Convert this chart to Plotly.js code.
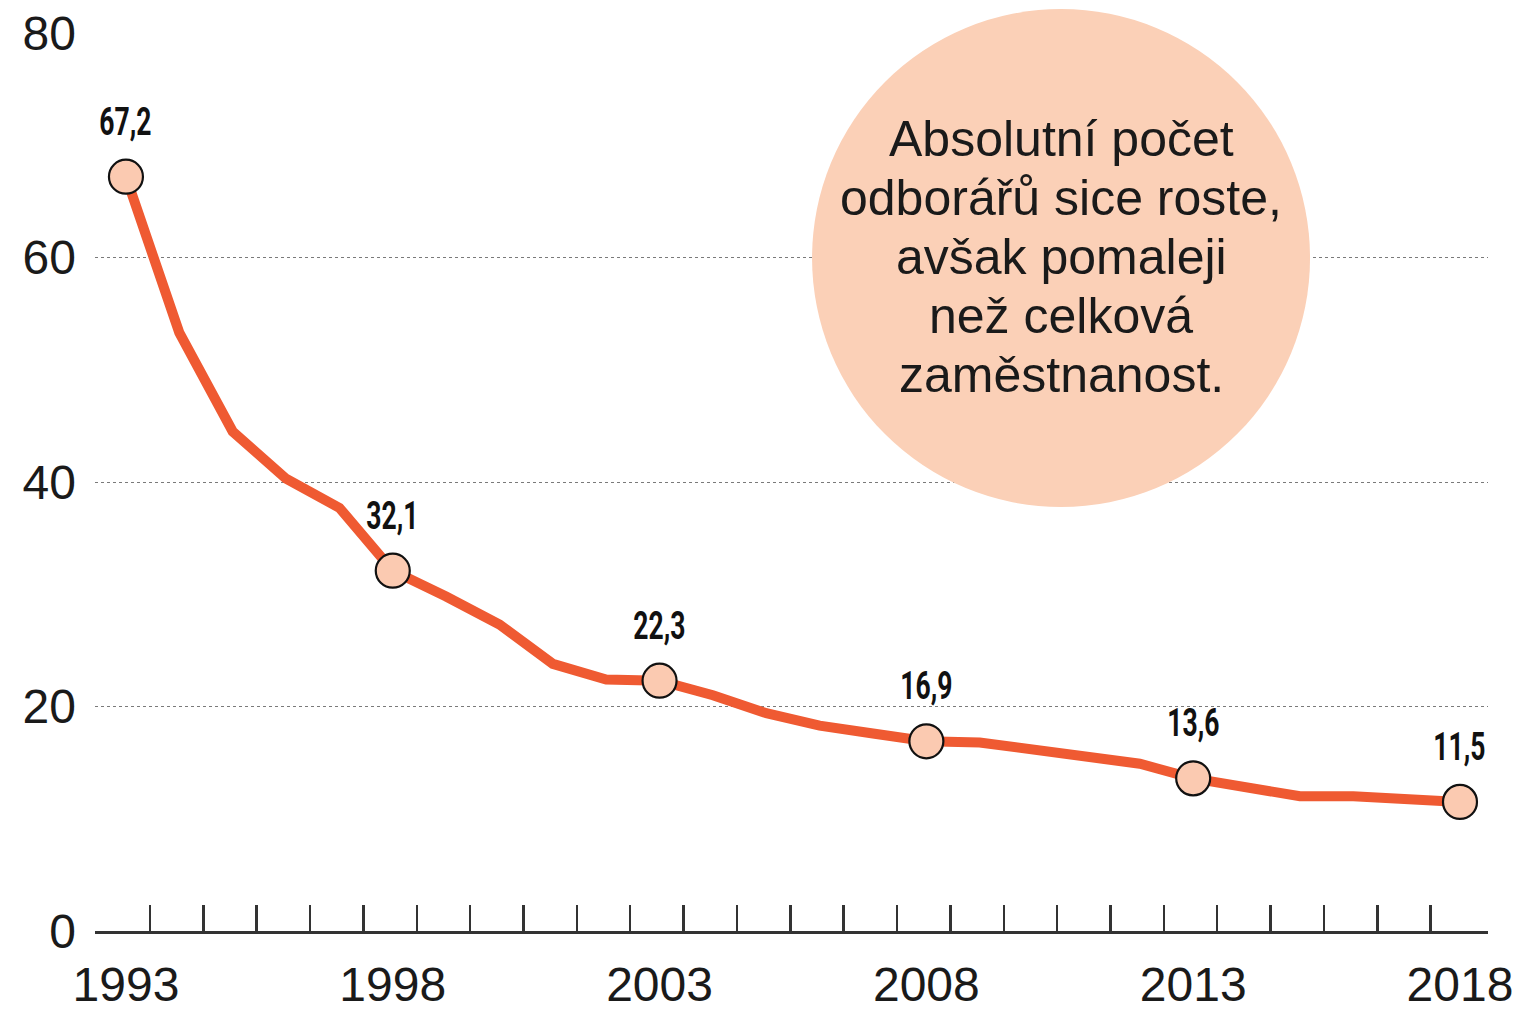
<!DOCTYPE html>
<html>
<head>
<meta charset="utf-8">
<script src="https://cdn.plot.ly/plotly-3.0.1.min.js"></script>
<style>
  html, body { margin: 0; padding: 0; background: #ffffff; }
  #chart { width: 1520px; height: 1011px; }
</style>
</head>
<body>
<div id="chart"></div>
<script>
// ---- data ----
const years = [1993, 1994, 1995, 1996, 1997, 1998, 1999, 2000, 2001, 2002, 2003, 2004, 2005,
               2006, 2007, 2008, 2009, 2010, 2011, 2012, 2013, 2014, 2015, 2016, 2017, 2018];
const values = [67.2, 53.3, 44.5, 40.3, 37.7, 32.1, 29.8, 27.3, 23.8, 22.4, 22.3, 21.0, 19.4,
                18.3, 17.6, 16.9, 16.8, 16.1, 15.4, 14.9, 13.6, 12.9, 12.0, 12.0, 11.7, 11.5];
const highlightYears = [1993, 1998, 2003, 2008, 2013, 2018];
const xTickLabels = ['1993', '1998', '2003', '2008', '2013', '2018'];
const yTickValues = [0, 20, 40, 60, 80];
const minorTickYears = [1993, 1994, 1995, 1996, 1997, 1998, 1999, 2000, 2001, 2002, 2003, 2004,
                        2005, 2006, 2007, 2008, 2009, 2010, 2011, 2012, 2013, 2014, 2015, 2016, 2017];
const noteLines = ['Absolutní počet', 'odborářů sice roste,', 'avšak pomaleji', 'než celková', 'zaměstnanost.'];

// ---- derived ----
const highlightValues = highlightYears.map(y => values[years.indexOf(y)]);
const tickPositions = minorTickYears.map(y => y + 0.45);
const fmt = v => v.toFixed(1).replace('.', ',');

const LINE = '#EF5A32';
const PEACH = '#FBCAB1';
const BUBBLE = '#FBD0B7';
const TEXT = '#1a1a1a';
const FONT = '"Liberation Sans", Arial, Helvetica, sans-serif';
const BOLDF = 'Roboto, "Liberation Sans", Arial, sans-serif';

const xRange = [1992.42, 2018.525];
const bubble = {x: 0.6935, y: 0.7494, r: 249};

const traces = [
  {
    x: years, y: values, type: 'scatter', mode: 'lines',
    line: {color: LINE, width: 10, shape: 'linear'},
    hoverinfo: 'skip', showlegend: false, cliponaxis: false
  },
  {
    x: highlightYears, y: highlightValues, type: 'scatter', mode: 'markers',
    marker: {size: 34, color: PEACH, line: {color: '#111', width: 2.2}},
    hoverinfo: 'skip', showlegend: false, cliponaxis: false
  },
  {
    x: [], y: [], xaxis: 'x2', yaxis: 'y', type: 'scatter', mode: 'markers',
    showlegend: false, hoverinfo: 'skip'
  }
];

const annotations = highlightYears.map((yr, i) => ({
  x: yr, y: highlightValues[i], xref: 'x', yref: 'y',
  text: fmt(highlightValues[i]),
  showarrow: false, yshift: 55, xanchor: 'center', yanchor: 'middle',
  font: {family: BOLDF, size: 39, weight: 700, color: '#111'}
}));

noteLines.forEach((line, i) => {
  annotations.push({
    x: bubble.x, y: bubble.y, xref: 'paper', yref: 'paper',
    text: line, showarrow: false, xanchor: 'center', yanchor: 'middle',
    yshift: (2 - i) * 59 + 1,
    font: {family: FONT, size: 50, color: TEXT}
  });
});

const layout = {
  width: 1520, height: 1011,
  margin: {l: 95, r: 32, t: 33, b: 80, pad: 0},
  paper_bgcolor: '#ffffff', plot_bgcolor: '#ffffff',
  showlegend: false,
  font: {family: FONT, color: TEXT},
  xaxis: {
    range: xRange, showgrid: false, zeroline: false,
    showline: true, linecolor: '#333', linewidth: 3,
    tickmode: 'array', tickvals: highlightYears, ticktext: xTickLabels,
    ticks: '', ticklabelstandoff: 9,
    tickfont: {family: FONT, size: 48, color: TEXT},
    fixedrange: true
  },
  xaxis2: {
    range: xRange, overlaying: 'x', anchor: 'y', side: 'bottom',
    showgrid: false, zeroline: false, showline: false,
    tickmode: 'array', tickvals: tickPositions,
    ticks: 'inside', ticklen: 26, tickwidth: 2.5, tickcolor: '#333',
    showticklabels: false, fixedrange: true
  },
  yaxis: {
    range: [0, 80], showgrid: true, gridcolor: '#7a7a7a', gridwidth: 1, griddash: 'dot',
    zeroline: false, showline: false,
    tickmode: 'array', tickvals: yTickValues, ticks: '',
    ticklabelstandoff: 18,
    tickfont: {family: FONT, size: 48, color: TEXT},
    fixedrange: true
  },
  shapes: [{
    type: 'circle', layer: 'above',
    xref: 'paper', yref: 'paper', xsizemode: 'pixel', ysizemode: 'pixel',
    xanchor: bubble.x, yanchor: bubble.y,
    x0: -bubble.r, x1: bubble.r, y0: -bubble.r, y1: bubble.r,
    fillcolor: BUBBLE, line: {width: 0}
  }],
  annotations: annotations
};

Plotly.newPlot('chart', traces, layout, {displayModeBar: false, staticPlot: true}).then(gd => {
  // condense the bold value labels horizontally (narrow display face in the original)
  const nLabels = highlightYears.length;
  const texts = gd.querySelectorAll('.annotation-text');
  texts.forEach((t, idx) => {
    if (idx >= nLabels) return;
    const bb = t.getBBox();
    const cx = bb.x + bb.width / 2;
    t.setAttribute('transform', `translate(${cx},0) scale(0.68,1) translate(${-cx},0)`);
  });
});
</script>
</body>
</html>
